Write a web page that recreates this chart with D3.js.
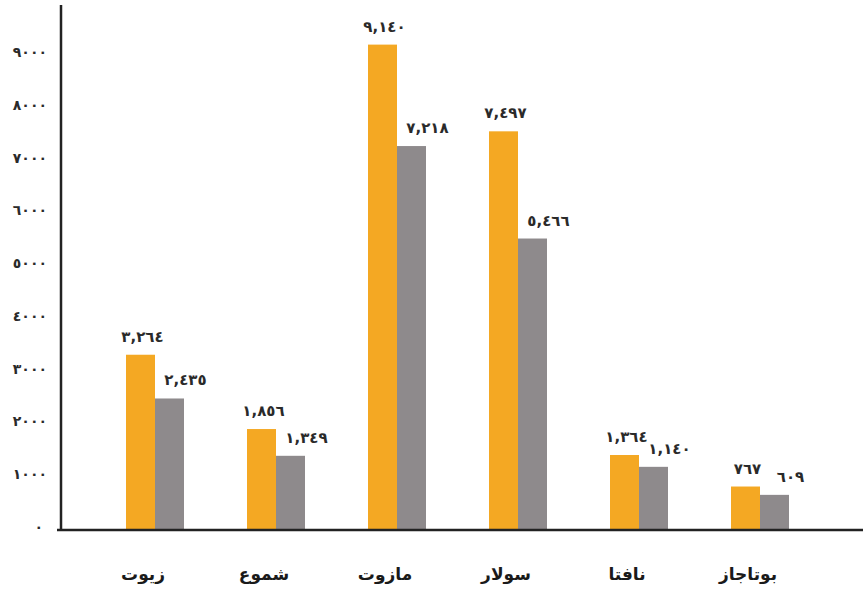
<!DOCTYPE html>
<html>
<head>
<meta charset="utf-8">
<script src="https://cdn.jsdelivr.net/npm/d3@7"></script>
<style>
  body { margin: 0; background: #fff; }
  svg { display: block; }
  text { font-family: "DejaVu Sans", sans-serif; }
</style>
</head>
<body>
<div id="chart"></div>
<script>
(function(){

// categories, left to right
var categories = ["زيوت", "شموع", "مازوت", "سولار", "نافتا", "بوتاجاز"];
// orange series
var seriesA = [3264, 1856, 9140, 7497, 1364, 767];
// gray series
var seriesB = [2435, 1349, 7218, 5466, 1140, 609];
var yTicks = [0, 1000, 2000, 3000, 4000, 5000, 6000, 7000, 8000, 9000];

var width = 863, height = 590;
var base = 527, top9000 = 52;

var svg = d3.select("#chart")
  .append("svg")
  .attr("width", width)
  .attr("height", height);

var arabicDigits = "٠١٢٣٤٥٦٧٨٩";
function toArabic(s){
  return String(s).replace(/[0-9]/g, function(c){ return arabicDigits[+c]; });
}
var fmt = d3.format(",");

var y = d3.scaleLinear()
  .domain([0, 9000])
  .range([base, top9000]);

var x0 = d3.scalePoint()
  .domain(categories)
  .range([155, 760]);

var x1 = d3.scaleBand()
  .domain(["a", "b"])
  .range([-29, 29]);

// y tick labels
svg.selectAll(".ytick")
  .data(yTicks)
  .enter()
  .append("text")
  .attr("class", "ytick")
  .attr("x", function(d){ return d === 0 ? 43 : 47; })
  .attr("y", function(d){ return y(d) + 5; })
  .attr("text-anchor", "end")
  .style("font-size", "14px")
  .style("font-weight", "bold")
  .style("fill", "#2a2a2a")
  .text(function(d){ return toArabic(d); });

var rows = categories.map(function(c, i){
  return {cat: c, a: seriesA[i], b: seriesB[i]};
});

var groups = svg.selectAll(".grp")
  .data(rows)
  .enter()
  .append("g")
  .attr("class", "grp")
  .attr("transform", function(d){ return "translate(" + x0(d.cat) + ",0)"; });

groups.append("rect")
  .attr("x", x1("a"))
  .attr("width", x1.bandwidth())
  .attr("y", function(d){ return y(d.a); })
  .attr("height", function(d){ return base + 3 - y(d.a); })
  .style("fill", "#f4a823");

groups.append("rect")
  .attr("x", x1("b"))
  .attr("width", x1.bandwidth())
  .attr("y", function(d){ return y(d.b); })
  .attr("height", function(d){ return base + 3 - y(d.b); })
  .style("fill", "#8e8a8c");

groups.append("text")
  .attr("x", x1("a") + x1.bandwidth() / 2 + 2)
  .attr("y", function(d){ return y(d.a) - 13; })
  .attr("text-anchor", "middle")
  .style("font-size", "15px")
  .style("font-weight", "bold")
  .style("fill", "#2a2a2a")
  .text(function(d){ return toArabic(fmt(d.a)); });

groups.append("text")
  .attr("x", x1("b") + x1.bandwidth() / 2 + 16)
  .attr("y", function(d){ return y(d.b) - 13; })
  .attr("text-anchor", "middle")
  .style("font-size", "15px")
  .style("font-weight", "bold")
  .style("fill", "#2a2a2a")
  .text(function(d){ return toArabic(fmt(d.b)); });

// category labels
groups.append("text")
  .attr("x", -12)
  .attr("y", 580)
  .attr("text-anchor", "middle")
  .style("font-size", "17px")
  .style("font-weight", "bold")
  .style("fill", "#1a1a1a")
  .text(function(d){ return d.cat; });

// axes lines
svg.append("line")
  .attr("x1", 61).attr("x2", 61)
  .attr("y1", 5).attr("y2", base + 3)
  .style("stroke", "#222")
  .style("stroke-width", 2.5);

svg.append("line")
  .attr("x1", 57).attr("x2", width)
  .attr("y1", base + 3).attr("y2", base + 3)
  .style("stroke", "#222")
  .style("stroke-width", 2.5);

})();
</script>
</body>
</html>
